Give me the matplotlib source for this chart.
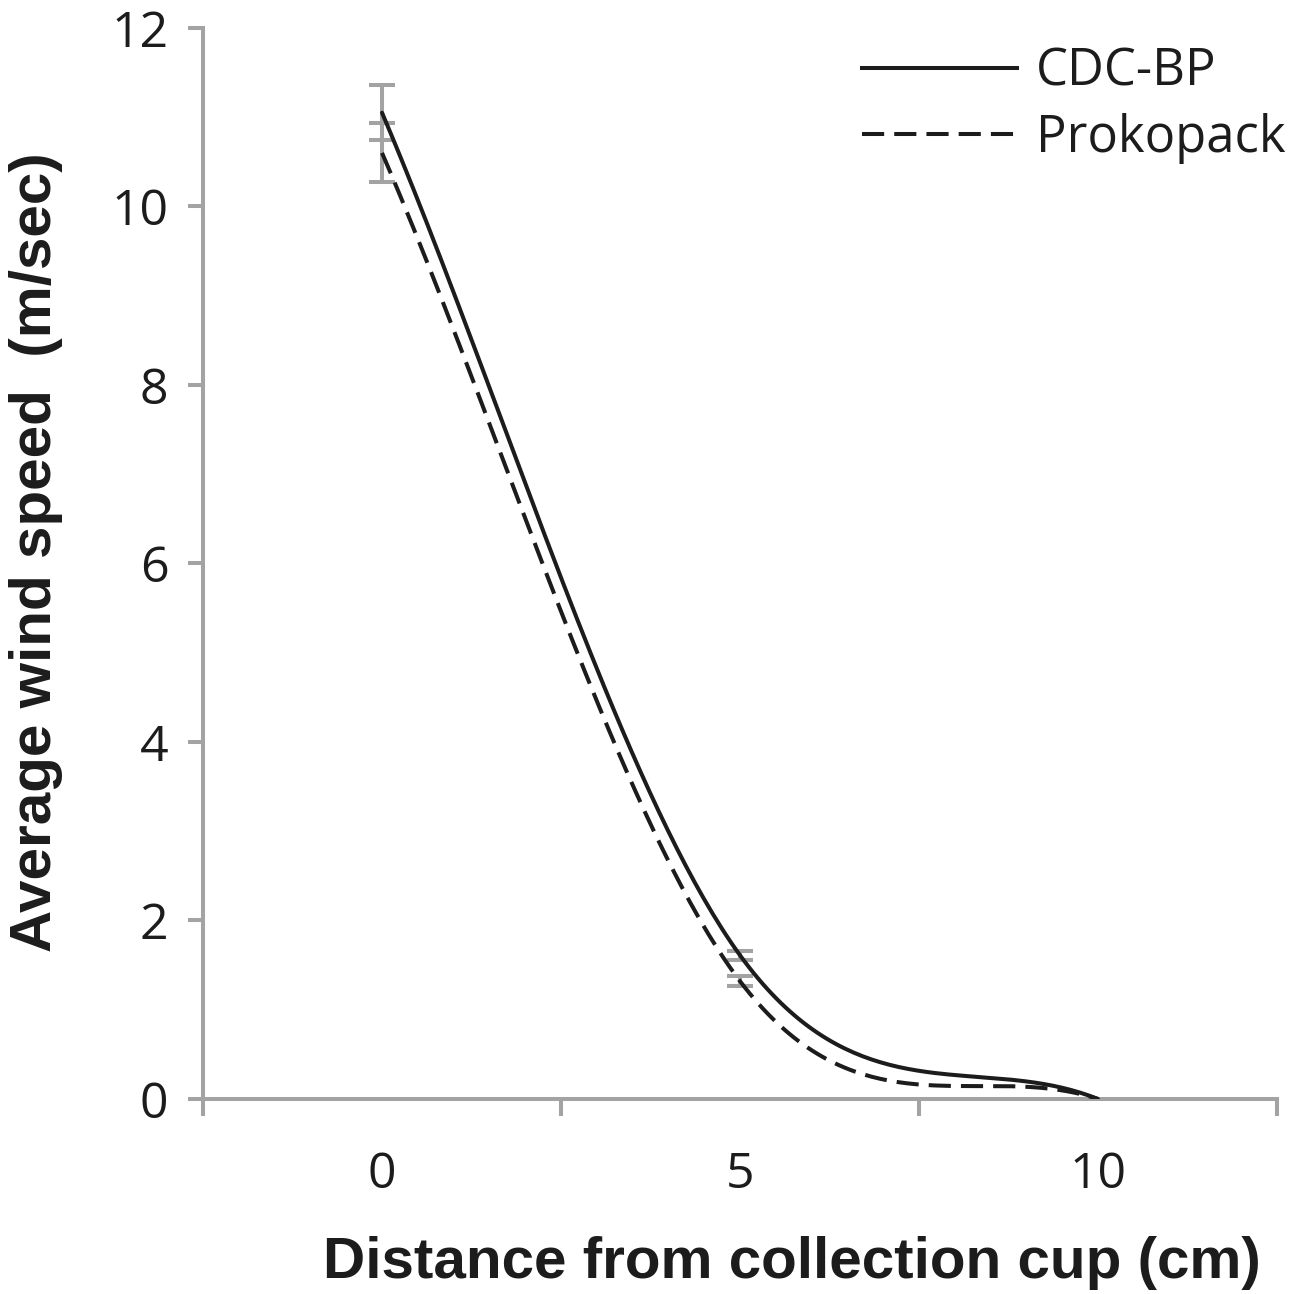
import matplotlib
matplotlib.use("Agg")
import matplotlib.pyplot as plt
from matplotlib.lines import Line2D
import numpy as np

# distance categories (cm) and mean wind speed (m/sec)
distance = [0, 5, 10]
cdc_bp = [11.05, 1.61, 0.0]
cdc_bp_err = [0.31, 0.05, 0.0]
prokopack = [10.60, 1.32, 0.0]
prokopack_err = [0.33, 0.055, 0.0]

AXIS_GREY = "#a3a3a3"
LINE_COL = "#1c1c1c"
TICK_FONT = "Open Sans"
LABEL_FONT, LABEL_SIZE = "Liberation Sans", 42


def smooth(ax, xs, ys, n=80):
    """Excel-like smoothed line: cubic bezier through the points, built in display space"""
    pts = ax.transData.transform(np.column_stack([xs, ys]))
    k = len(pts)
    ctrl_in = np.zeros_like(pts)
    ctrl_out = np.zeros_like(pts)
    for i in range(k):
        if 0 < i < k - 1:
            tan = (pts[i + 1] - pts[i - 1]) / 6.0
            ctrl_in[i] = pts[i] - tan
            ctrl_out[i] = pts[i] + tan
    ctrl_out[0] = pts[0] + (pts[1] - pts[0]) / 3.0
    ctrl_in[-1] = pts[-1] - (pts[-1] - pts[-2]) / 3.0
    t = np.linspace(0, 1, n)[:, None]
    curve = []
    for i in range(k - 1):
        p0, c1, c2, p1 = pts[i], ctrl_out[i], ctrl_in[i + 1], pts[i + 1]
        seg = ((1 - t) ** 3) * p0 + 3 * ((1 - t) ** 2) * t * c1 \
            + 3 * (1 - t) * t ** 2 * c2 + t ** 3 * p1
        curve.append(seg if i == 0 else seg[1:])
    curve = np.vstack(curve)
    return ax.transData.inverted().transform(curve)


fig = plt.figure(figsize=(13.04, 12.94), dpi=100)
ax = fig.add_axes([0.1557, 0.1507, 0.8236, 0.8277])

ax.set_xlim(-2.5, 12.5)
ax.set_ylim(0, 12)

DASH = (5.5, 2.5)
for vals, errs, style in [(cdc_bp, cdc_bp_err, "-"), (prokopack, prokopack_err, "--")]:
    xy = smooth(ax, distance, vals)
    ln, = ax.plot(xy[:, 0], xy[:, 1], color=LINE_COL, lw=2.9, ls=style,
                  solid_capstyle="round", dash_capstyle="butt", zorder=3)
    if style == "--":
        ln.set_dashes(DASH)
    ax.errorbar(distance[:2], vals[:2], yerr=errs[:2], fmt="none",
                ecolor=AXIS_GREY, elinewidth=2.9, capsize=9.5, capthick=2.9,
                zorder=2)

# axes look (Excel style)
for side in ["top", "right"]:
    ax.spines[side].set_visible(False)
for side in ["left", "bottom"]:
    ax.spines[side].set_color(AXIS_GREY)
    ax.spines[side].set_linewidth(2.9)

ax.set_yticks(np.arange(0, 13, 2))
ax.set_xticks([-2.5, 2.5, 7.5, 12.5])
ax.set_xticklabels([])
ax.set_xticks(distance, minor=True)
ax.set_xticklabels([str(d) for d in distance], minor=True)
ax.tick_params(axis="x", which="minor", length=0, pad=37)
ax.tick_params(axis="x", which="major", length=12, width=2.9, color=AXIS_GREY)
ax.tick_params(axis="y", length=11, width=2.9, color=AXIS_GREY, pad=14)
for lab in ax.get_xticklabels(minor=True) + ax.get_yticklabels():
    lab.set_fontfamily(TICK_FONT)
    lab.set_fontsize(36)
    lab.set_color("#1c1c1c")

handles = [Line2D([], [], color=LINE_COL, lw=2.9, ls="-"),
           Line2D([], [], color=LINE_COL, lw=2.9, ls=(0, DASH), dash_capstyle="butt")]
leg = ax.legend(handles, ["CDC-BP", "Prokopack"], loc="upper right",
                bbox_to_anchor=(0.986, 0.964), bbox_transform=fig.transFigure,
                frameon=False, handlelength=3.05, handletextpad=0.38,
                labelspacing=0.3, borderpad=0.0, borderaxespad=0.0,
                prop={"family": TICK_FONT, "size": 36.5})
for txt in leg.get_texts():
    txt.set_color("#1c1c1c")

fig.text(0.607, 0.012, "Distance from collection cup (cm)", ha="center",
         va="baseline", fontsize=LABEL_SIZE, fontweight="bold", family=LABEL_FONT,
         color="#1c1c1c")
fig.text(0.007, 0.573, "Average wind speed  (m/sec)", ha="left", va="center",
         rotation=90, fontsize=LABEL_SIZE, fontweight="bold", family=LABEL_FONT,
         color="#1c1c1c")

fig.savefig("out.png", dpi=100)
